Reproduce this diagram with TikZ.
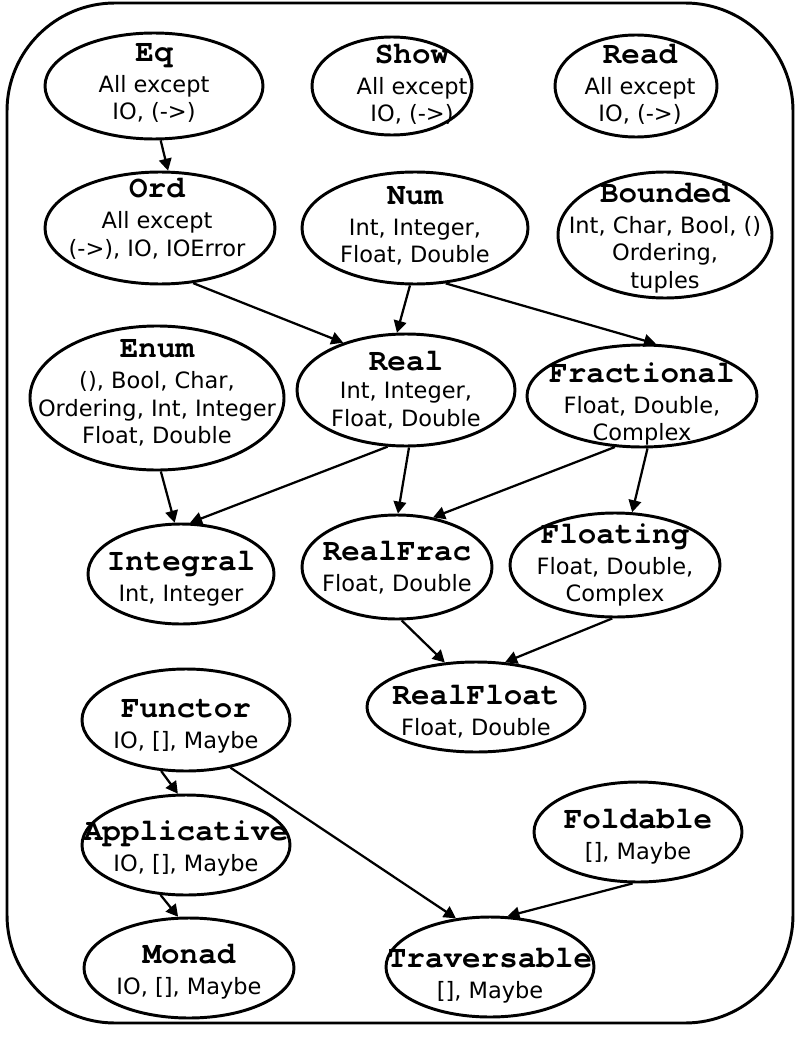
\documentclass[tikz,border=0pt]{standalone}
\usepackage{fontspec}
\setmainfont{DejaVu Sans}
\newfontfamily\titlefont{texgyrecursor-bold.otf}
\usepackage{tikz}
\usetikzlibrary{arrows.meta,shapes.geometric}
\tikzset{
  cls/.style={ellipse,draw,line width=2.1pt,inner sep=0pt},
  sz/.style 2 args={minimum width=#1mm,minimum height=#2mm},
  txt/.style={align=center,inner sep=0pt,font=\fontsize{16}{19.5}\selectfont},
  arr/.style={-{Triangle[length=8.5pt,width=9pt]},line width=1.6pt},
  frame/.style={rounded corners=2.7cm,line width=2.1pt}
}
\newcommand\ttl[1]{{\titlefont\fontsize{22}{22}\selectfont #1}}

\begin{document}
\begin{tikzpicture}[x=0.25mm,y=-0.25mm]
  \useasboundingbox (0,0) rectangle (800,1040);
  \draw[frame] (7,3) rectangle (793,1023);
  % top row
  \node[cls,sz={54.5}{26.5},label={[txt,yshift=0.75mm]center:{\ttl{Eq}\\[2.5pt]All except\\IO, (->)}}] (eq) at (154,86) {};
  \node[cls,sz={40}{24.5},label={[txt,xshift=5mm,yshift=0.4mm]center:{\ttl{Show}\\[2.5pt]All except\\IO, (->)}}] (show) at (392,86) {};
  \node[cls,sz={40.5}{25.5},label={[txt,xshift=1mm,yshift=0.4mm]center:{\ttl{Read}\\[2.5pt]All except\\IO, (->)}}] (read) at (636,86) {};
  \node[cls,sz={57.5}{28},label={[txt,xshift=-0.75mm,yshift=2.25mm]center:{\ttl{Ord}\\[2.5pt]All except\\(->), IO, IOError}}] (ord) at (160,228) {};
  \node[cls,sz={56.5}{28},label={[txt,yshift=0.5mm]center:{\ttl{Num}\\[2.5pt]Int, Integer,\\Float, Double}}] (num) at (415,228) {};
  \node[cls,sz={53.5}{31.5},label={[txt,yshift=-0.75mm]center:{\ttl{Bounded}\\[2.5pt]Int, Char, Bool, ()\\Ordering,\\tuples}}] (bounded) at (665,235) {};
  % numeric classes
  \node[cls,sz={63.5}{36},label={[txt,yshift=1.25mm]center:{\ttl{Enum}\\[2.5pt](), Bool, Char,\\Ordering, Int, Integer\\Float, Double}}] (enum) at (157,398) {};
  \node[cls,sz={54.5}{28},label={[txt]center:{\ttl{Real}\\[0.5pt]Int, Integer,\\Float, Double}}] (real) at (406,390) {};
  \node[cls,sz={57.5}{25.5},label={[txt,yshift=-2mm]center:{\ttl{Fractional}\\[2.5pt]Float, Double,\\Complex}}] (fractional) at (642,396) {};
  \node[cls,sz={46.5}{25},label={[txt,yshift=-1.25mm]center:{\ttl{Integral}\\[2.5pt]Int, Integer}}] (integral) at (181,574) {};
  \node[cls,sz={47.5}{26},label={[txt,yshift=-0.25mm]center:{\ttl{RealFrac}\\[2.5pt]Float, Double}}] (realfrac) at (397,567) {};
  \node[cls,sz={52.5}{26},label={[txt]center:{\ttl{Floating}\\[2.5pt]Float, Double,\\Complex}}] (floating) at (615,565) {};
  \node[cls,sz={54.5}{22.5},label={[txt,yshift=-1.25mm]center:{\ttl{RealFloat}\\[2.5pt]Float, Double}}] (realfloat) at (476,707) {};
  % functor family
  \node[cls,sz={52}{25.5},label={[txt,yshift=-1.5mm]center:{\ttl{Functor}\\[2.5pt]IO, [], Maybe}}] (functor) at (186,720) {};
  \node[cls,sz={52}{25},label={[txt,yshift=-0.75mm]center:{\ttl{Applicative}\\[2.5pt]IO, [], Maybe}}] (applicative) at (186,845) {};
  \node[cls,sz={52.5}{25},label={[txt,yshift=-1mm]center:{\ttl{Monad}\\[2.5pt]IO, [], Maybe}}] (monad) at (189,968) {};
  \node[cls,sz={52}{25},label={[txt,yshift=-1.25mm]center:{\ttl{Foldable}\\[2.5pt][], Maybe}}] (foldable) at (638,832) {};
  \node[cls,sz={52}{25},label={[txt,yshift=-2.25mm]center:{\ttl{Traversable}\\[2.5pt][], Maybe}}] (traversable) at (490,967) {};

  \draw[arr] (eq.-83) -- (ord.82);
  \draw[arr] (ord.-59) -- (real.143);
  \draw[arr] (num.-95) -- (real.99);
  \draw[arr] (num.-61) -- (fractional.75);
  \draw[arr] (enum.-87) -- (integral.97);
  \draw[arr] (real.-108) -- (integral.80);
  \draw[arr] (real.-87) -- (realfrac.89);
  \draw[arr] (fractional.-118) -- (realfrac.54);
  \draw[arr] (fractional.-84) -- (floating.72);
  \draw[arr] (realfrac.-85) -- (realfloat.125);
  \draw[arr] (floating.-93) -- (realfloat.57);
  \draw[arr] (functor.-116) -- (applicative.99);
  \draw[arr] (functor.-47) -- (traversable.125);
  \draw[arr] (applicative.-117) -- (monad.102);
  \draw[arr] (foldable.-96) -- (traversable.71);
\end{tikzpicture}
\end{document}
